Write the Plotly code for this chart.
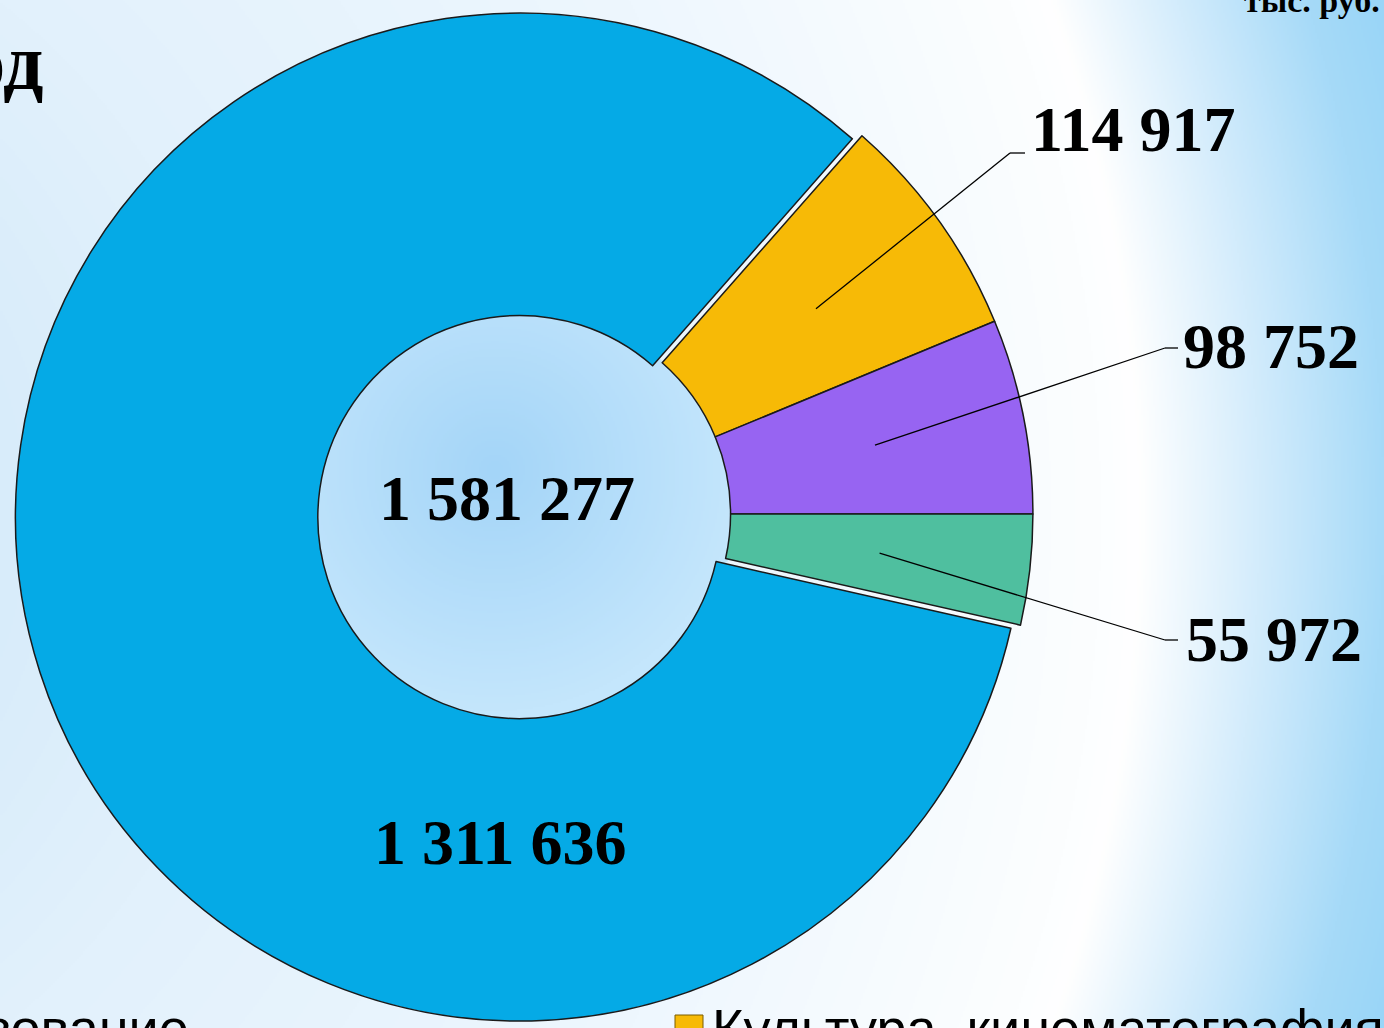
import numpy as np
import plotly.graph_objects as go
import zlib, struct, base64

# ---------------- data ----------------
categories = ["Образование", "Культура, кинематография",
              "Социальная политика", "Физическая культура и спорт"]
values = [1311636, 114917, 98752, 55972]
value_labels = ["1 311 636", "114 917", "98 752", "55 972"]
total_label = "1 581 277"
colors = ["#05AAE6", "#F7BA06", "#9764F2", "#4FBF9F"]

W, H = 1384, 1028

def fx(px):
    return px / W

def fy(py):
    return 1 - py / H

# ---------------- background image (decoration) ----------------
def hex2rgb(h):
    h = h.lstrip("#")
    return [int(h[i:i + 2], 16) for i in (0, 2, 4)]

def grad(t, stops):
    pos = [s[0] for s in stops]
    cols = np.array([hex2rgb(s[1]) for s in stops], float)
    return np.stack([np.interp(t, pos, cols[:, k]) for k in range(3)], axis=-1)

def png_uri(rgb):
    h, w, _ = rgb.shape
    raw = rgb.astype(np.int16)
    sub = raw.copy()
    sub[:, 1:, :] = raw[:, 1:, :] - raw[:, :-1, :]
    sub = (sub % 256).astype(np.uint8).reshape(h, w * 3)
    rows = np.hstack([np.ones((h, 1), np.uint8), sub])
    data = zlib.compress(rows.tobytes(), 9)

    def chunk(t, d):
        c = struct.pack(">I", len(d)) + t + d
        return c + struct.pack(">I", zlib.crc32(t + d) & 0xffffffff)

    png = (b"\x89PNG\r\n\x1a\n"
           + chunk(b"IHDR", struct.pack(">IIBBBBB", w, h, 8, 2, 0, 0, 0))
           + chunk(b"IDAT", data) + chunk(b"IEND", b""))
    return "data:image/png;base64," + base64.b64encode(png).decode()

S = 2
gx = (np.arange(W // S) + 0.5) * S
gy = (np.arange(H // S) + 0.5) * S
X, Y = np.meshgrid(gx, gy)
r = np.hypot(X + 400, Y - 516)
bg = grad(r, [(0, "#cfe7f9"), (400, "#d8ecfa"), (650, "#e2f1fc"),
              (1150, "#eef7fe"), (1500, "#fcfeff"), (1540, "#ffffff"),
              (1660, "#d3ecfc"), (1784, "#a6daf8"), (1950, "#88cff7")])
hole = np.hypot(X - 524, Y - 516) < 208
th = np.hypot(X - 495, Y - 470)
hc = grad(th, [(0, "#a4d5f8"), (240, "#c4e6fc")])
bg[hole] = hc[hole]
bg_uri = png_uri(np.clip(bg, 0, 255).astype(np.uint8))

# ---------------- pie geometry ----------------
dom_x = [0, 1058 / W]
dom_y = [0, 1]
pulls = [0.02, 0, 0, 0]
hole_frac = 0.40
rotation = 90 + 360 * values[-1] / sum(values)

box_w = W * (dom_x[1] - dom_x[0])
box_h = H * (dom_y[1] - dom_y[0])
R = min(box_w, box_h) / 2 / (1 + max(pulls))
CX = W * (dom_x[0] + dom_x[1]) / 2
CY = H * (1 - dom_y[0]) - box_h / 2

tot = float(sum(values))
cum = np.cumsum([0] + values[:-1])
mid_deg = [rotation + 360 * (c + v / 2) / tot for c, v in zip(cum, values)]

fig = go.Figure()
fig.add_trace(go.Pie(
    labels=categories, values=values, sort=False, direction="clockwise",
    rotation=rotation, hole=hole_frac, pull=pulls,
    marker=dict(colors=colors, line=dict(color="#1a1a1a", width=1.5)),
    textinfo="none", hoverinfo="label+value", showlegend=False,
    domain=dict(x=dom_x, y=dom_y),
))

serif = "Liberation Serif, Times New Roman, serif"
sans = "Liberation Sans, Arial, sans-serif"
annotations = []
shapes = []

# leader lines + labels for the small slices
elbows = {1: (1010, 153, 1025), 2: (1165, 348, 1178), 3: (1165, 640, 1178)}
text_pos = {1: (1029, 129), 2: (1181, 346), 3: (1184, 639)}
for i in (1, 2, 3):
    a = np.radians(mid_deg[i])
    sx = CX + 0.70 * R * np.sin(a)
    sy = CY - 0.70 * R * np.cos(a)
    ex, ey, hx = elbows[i]
    shapes.append(dict(type="line", xref="paper", yref="paper",
                       x0=fx(sx), y0=fy(sy), x1=fx(ex), y1=fy(ey),
                       line=dict(color="black", width=1.3)))
    shapes.append(dict(type="line", xref="paper", yref="paper",
                       x0=fx(ex), y0=fy(ey), x1=fx(hx), y1=fy(ey),
                       line=dict(color="black", width=1.3)))
    tx, ty = text_pos[i]
    annotations.append(dict(text="<b>%s</b>" % value_labels[i], x=fx(tx), y=fy(ty),
                            xref="paper", yref="paper", xanchor="left", yanchor="middle",
                            showarrow=False, font=dict(family=serif, size=64, color="black")))

# big slice label and total
annotations.append(dict(text="<b>%s</b>" % value_labels[0], x=fx(500), y=fy(842),
                        xref="paper", yref="paper", xanchor="center", yanchor="middle",
                        showarrow=False, font=dict(family=serif, size=64, color="black")))
annotations.append(dict(text="<b>%s</b>" % total_label, x=fx(507), y=fy(498),
                        xref="paper", yref="paper", xanchor="center", yanchor="middle",
                        showarrow=False, font=dict(family=serif, size=64, color="black")))

# cropped title and unit
annotations.append(dict(text="<b>год</b>", x=fx(46), y=fy(62), xref="paper", yref="paper",
                        xanchor="right", yanchor="middle", showarrow=False,
                        font=dict(family=serif, size=80, color="black")))
annotations.append(dict(text="<b>тыс. руб.</b>", x=fx(1242), y=fy(1), xref="paper", yref="paper",
                        xanchor="left", yanchor="middle", showarrow=False,
                        font=dict(family=serif, size=34, color="black")))

# cropped legend
annotations.append(dict(text=categories[0], x=fx(191), y=fy(1028), xref="paper", yref="paper",
                        xanchor="right", yanchor="middle", showarrow=False,
                        font=dict(family=sans, size=54, color="black")))
shapes.append(dict(type="rect", xref="paper", yref="paper",
                   x0=fx(675), x1=fx(703), y0=fy(1043), y1=fy(1015),
                   fillcolor=colors[1], line=dict(color="#7a5c00", width=1)))
annotations.append(dict(text=categories[1], x=fx(710), y=fy(1028), xref="paper", yref="paper",
                        xanchor="left", yanchor="middle", showarrow=False,
                        font=dict(family=sans, size=54, color="black")))

fig.update_layout(
    width=W, height=H,
    margin=dict(l=0, r=0, t=0, b=0),
    paper_bgcolor="#eaf5fd", plot_bgcolor="rgba(0,0,0,0)",
    images=[dict(source=bg_uri, xref="paper", yref="paper", x=0, y=1,
                 sizex=1, sizey=1, sizing="stretch", layer="below",
                 xanchor="left", yanchor="top")],
    annotations=annotations, shapes=shapes,
)

fig.write_html("out.html", config={"displayModeBar": False},
               post_script="document.body.style.margin='0';document.body.style.overflow='hidden';")
